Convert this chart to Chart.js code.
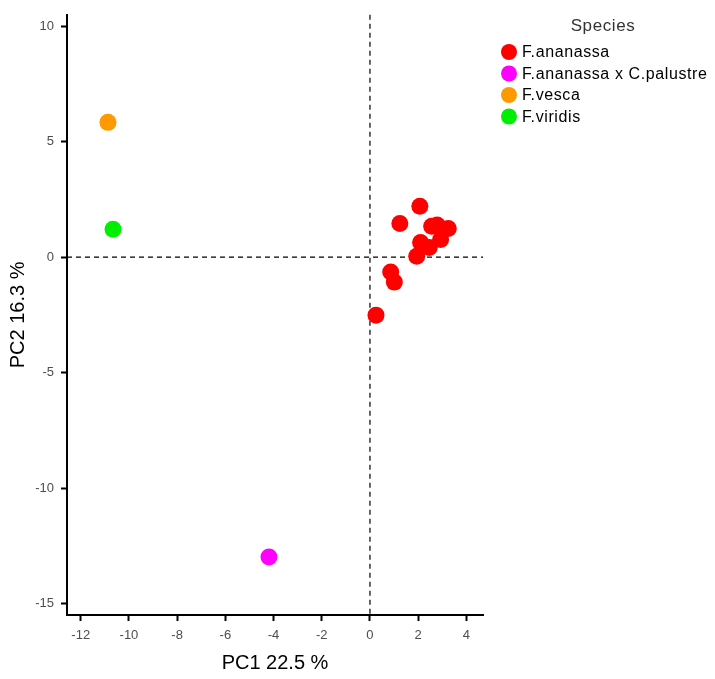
<!DOCTYPE html>
<html>
<head>
<meta charset="utf-8">
<script src="https://cdn.jsdelivr.net/npm/chart.js@4"></script>
<style>
  body { margin: 0; background: #fff; }
  #wrap { width: 715px; height: 679px; }
</style>
</head>
<body>
<div id="wrap"><canvas id="pca"></canvas></div>
<script>
// species and their PCA scores (PC1, PC2)
var species = ["F.ananassa", "F.ananassa x C.palustre", "F.vesca", "F.viridis"];
var colours = ["#ff0000", "#ff00ff", "#ff9900", "#00ee00"];
var pc1 = [
  [2.07, 1.24, 2.56, 2.79, 3.25, 2.93, 2.10, 2.46, 1.94, 0.86, 1.01, 0.25],
  [-4.19],
  [-10.87],
  [-10.66]
];
var pc2 = [
  [2.21, 1.46, 1.34, 1.39, 1.24, 0.77, 0.64, 0.42, 0.04, -0.64, -1.08, -2.51],
  [-12.99],
  [5.84],
  [1.21]
];
var xTicks = [-12, -10, -8, -6, -4, -2, 0, 2, 4];
var yTicks = [-15, -10, -5, 0, 5, 10];

var datasets = species.map(function (name, i) {
  return {
    label: name,
    data: pc1[i].map(function (x, j) { return { x: x, y: pc2[i][j] }; }),
    backgroundColor: colours[i],
    borderWidth: 0,
    pointRadius: 8.5,
    pointHoverRadius: 8.5
  };
});

// dashed lines through the origin
var zeroLines = {
  id: 'zeroLines',
  beforeDatasetsDraw: function (chart) {
    var c = chart.ctx, a = chart.chartArea;
    var x0 = chart.scales.x.getPixelForValue(0);
    var y0 = chart.scales.y.getPixelForValue(0);
    c.save();
    c.strokeStyle = '#000';
    c.lineWidth = 1.2;
    c.setLineDash([5, 4]);
    c.beginPath();
    c.moveTo(x0, a.top); c.lineTo(x0, a.bottom);
    c.moveTo(a.left, y0); c.lineTo(a.right, y0);
    c.stroke();
    c.restore();
  }
};

// legend drawn on the right, ggplot style
var sideLegend = {
  id: 'sideLegend',
  afterDraw: function (chart) {
    var c = chart.ctx;
    c.save();
    c.letterSpacing = '0.6px';
    c.fillStyle = '#333';
    c.font = '17px "Liberation Sans", Arial, sans-serif';
    c.textAlign = 'center';
    c.textBaseline = 'middle';
    c.fillText('Species', 603, 26);
    c.textAlign = 'left';
    c.font = '16px "Liberation Sans", Arial, sans-serif';
    chart.data.datasets.forEach(function (ds, i) {
      var y = 52 + i * 21.5;
      c.fillStyle = ds.backgroundColor;
      c.beginPath();
      c.arc(509, y, 8, 0, Math.PI * 2);
      c.fill();
      c.fillStyle = '#000';
      c.fillText(ds.label, 522, y + 1);
    });
    c.restore();
  }
};

var axisFont = { family: '"Liberation Sans", Arial, sans-serif', size: 13 };
var titleFont = { family: '"Liberation Sans", Arial, sans-serif', size: 20 };

var ctx = document.getElementById('pca').getContext('2d');
var chart = new Chart(ctx, {
  type: 'scatter',
  data: { datasets: datasets },
  plugins: [zeroLines, sideLegend],
  options: {
    responsive: true,
    maintainAspectRatio: false,
    animation: false,
    layout: { padding: { top: 14, right: 232, left: 0, bottom: 0 } },
    plugins: {
      legend: { display: false },
      tooltip: { enabled: false }
    },
    scales: {
      x: {
        type: 'linear',
        min: -12.57,
        max: 4.69,
        afterBuildTicks: function (s) { s.ticks = xTicks.map(function (v) { return { value: v }; }); },
        afterFit: function (s) { s.height = 64; },
        border: { display: true, color: '#000', width: 2 },
        grid: { display: true, drawOnChartArea: false, drawTicks: true, tickLength: 6, color: '#000', tickWidth: 2 },
        ticks: { color: '#4d4d4d', font: axisFont, padding: 7, maxRotation: 0 },
        title: { display: true, text: 'PC1 22.5 %', color: '#000', font: titleFont, padding: { top: 0, bottom: 4 } }
      },
      y: {
        type: 'linear',
        min: -15.5,
        max: 10.5,
        afterBuildTicks: function (s) { s.ticks = yTicks.map(function (v) { return { value: v }; }); },
        afterFit: function (s) { s.width = 67; },
        border: { display: true, color: '#000', width: 2 },
        grid: { display: true, drawOnChartArea: false, drawTicks: true, tickLength: 6, color: '#000', tickWidth: 2 },
        ticks: { color: '#4d4d4d', font: axisFont, padding: 7 },
        title: { display: true, text: 'PC2 16.3 %', color: '#000', font: titleFont, padding: { top: 6, bottom: 0 } }
      }
    }
  }
});
</script>
</body>
</html>
